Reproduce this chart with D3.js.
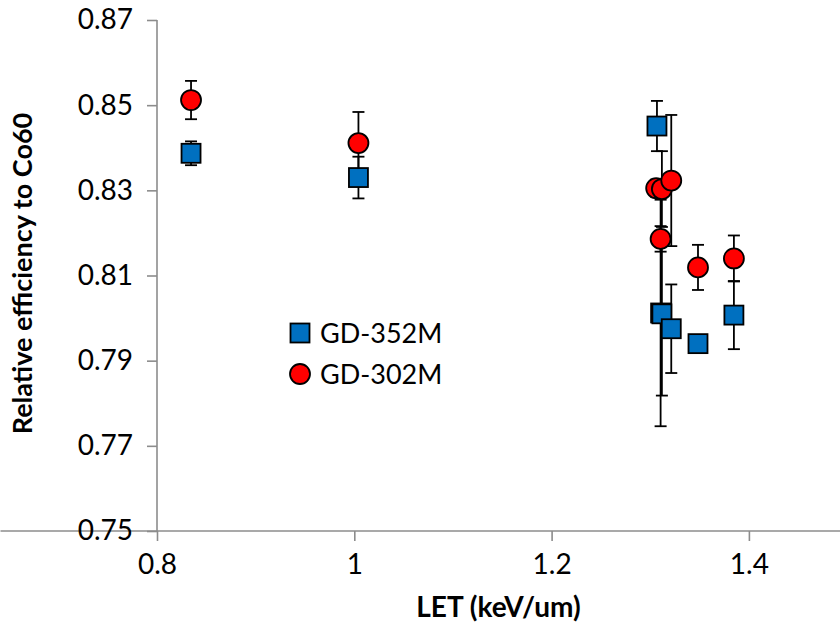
<!DOCTYPE html>
<html>
<head>
<meta charset="utf-8">
<script src="https://cdn.jsdelivr.net/npm/d3@7"></script>
<style>
  body { margin: 0; background: #fff; }
  svg { display: block; font-family: Lato, "Liberation Sans", sans-serif; }
</style>
</head>
<body>
<div class="chart"></div>
<script>
// LET values, relative efficiency and error for each detector
var let352 = [0.8345, 1.0042, 1.3068, 1.3105, 1.3118, 1.3213, 1.3484, 1.3848];
var eff352 = [0.8387, 0.8330, 0.8451, 0.8012, 0.8010, 0.7975, 0.7940, 0.8007];
var err352 = [0.0028, 0.0049, 0.0059, 0.0266, 0.0192, 0.0104, 0.0010, 0.0080];

var let302 = [0.8345, 1.0042, 1.3060, 1.3118, 1.3213, 1.3105, 1.3484, 1.3848];
var eff302 = [0.8512, 0.8411, 0.8305, 0.8303, 0.8323, 0.8186, 0.8119, 0.8140];
var err302 = [0.0045, 0.0073, 0.0020, 0.0089, 0.0154, 0.0030, 0.0053, 0.0054];

var xTicks = [0.8, 1, 1.2, 1.4];
var yTicks = [0.75, 0.77, 0.79, 0.81, 0.83, 0.85, 0.87];

var width = 840, height = 626;

var x = d3.scaleLinear().domain([0.8, 1.5]).range([157, 157 + 3.5 * 197.3]);
var y = d3.scaleLinear().domain([0.75, 0.87]).range([531, 20]);

var svg = d3.select('.chart').append('svg')
  .attr('width', width)
  .attr('height', height);

var axisColor = '#8c8c8c';

// axes
var xAxis = svg.append('g')
  .attr('transform', 'translate(0,' + y(0.75) + ')')
  .call(d3.axisBottom(x).tickValues(xTicks).tickSize(10).tickPadding(13).tickFormat(d3.format('~g')));
var yAxis = svg.append('g')
  .attr('transform', 'translate(' + x(0.8) + ',0)')
  .call(d3.axisLeft(y).tickValues(yTicks).tickSize(10).tickPadding(14).tickFormat(d3.format('.2f')));

[xAxis, yAxis].forEach(function(a) {
  a.attr('font-family', null);
  a.select('.domain').attr('stroke', axisColor).attr('stroke-width', 1.6);
  a.selectAll('.tick line').attr('stroke', axisColor).attr('stroke-width', 1.6);
  a.selectAll('.tick text').attr('fill', '#000').style('font-size', '28px');
});
// plain lines instead of the default outer end ticks
xAxis.select('.domain').attr('d', 'M0.5,0H' + width);
yAxis.select('.domain').attr('d', 'M0,' + y(0.87) + 'V' + y(0.75));

// titles
svg.append('text')
  .attr('x', (x(0.8) + width) / 2)
  .attr('y', 617)
  .attr('text-anchor', 'middle')
  .style('font-size', '28px')
  .style('font-weight', 'bold')
  .text('LET (keV/um)');

svg.append('text')
  .attr('transform', 'translate(32,' + (y(0.81) - 2) + ') rotate(-90)')
  .attr('text-anchor', 'middle')
  .style('font-size', '27px')
  .style('font-weight', 'bold')
  .text('Relative efficiency to Co60');

// error bars first, markers on top
function errorBars(xs, ys, es) {
  var g = svg.append('g').attr('stroke', '#000').attr('stroke-width', 1.8);
  xs.forEach(function(v, i) {
    var top = y(ys[i] + es[i]), bot = y(ys[i] - es[i]), cx = x(v);
    g.append('line').attr('x1', cx).attr('x2', cx).attr('y1', top).attr('y2', bot);
    g.append('line').attr('x1', cx - 6).attr('x2', cx + 6).attr('y1', top).attr('y2', top);
    g.append('line').attr('x1', cx - 6).attr('x2', cx + 6).attr('y1', bot).attr('y2', bot);
  });
}
errorBars(let352, eff352, err352);
errorBars(let302, eff302, err302);

var sq = 19;
svg.append('g').selectAll('rect')
  .data(d3.range(let352.length))
  .enter().append('rect')
  .attr('x', function(i) { return x(let352[i]) - sq / 2; })
  .attr('y', function(i) { return y(eff352[i]) - sq / 2; })
  .attr('width', sq).attr('height', sq)
  .attr('fill', '#0070c0').attr('stroke', '#000').attr('stroke-width', 1.8);

svg.append('g').selectAll('circle')
  .data(d3.range(let302.length))
  .enter().append('circle')
  .attr('cx', function(i) { return x(let302[i]); })
  .attr('cy', function(i) { return y(eff302[i]); })
  .attr('r', 10)
  .attr('fill', '#ff0000').attr('stroke', '#000').attr('stroke-width', 1.8);

// legend
var legend = svg.append('g').attr('transform', 'translate(300,333)');
legend.append('rect')
  .attr('x', -9.5).attr('y', -9.5).attr('width', sq).attr('height', sq)
  .attr('fill', '#0070c0').attr('stroke', '#000').attr('stroke-width', 1.8);
legend.append('text').attr('x', 20).attr('y', 10).style('font-size', '27px').text('GD-352M');
legend.append('circle')
  .attr('cx', 0).attr('cy', 41).attr('r', 10)
  .attr('fill', '#ff0000').attr('stroke', '#000').attr('stroke-width', 1.8);
legend.append('text').attr('x', 20).attr('y', 51).style('font-size', '27px').text('GD-302M');
</script>
</body>
</html>
